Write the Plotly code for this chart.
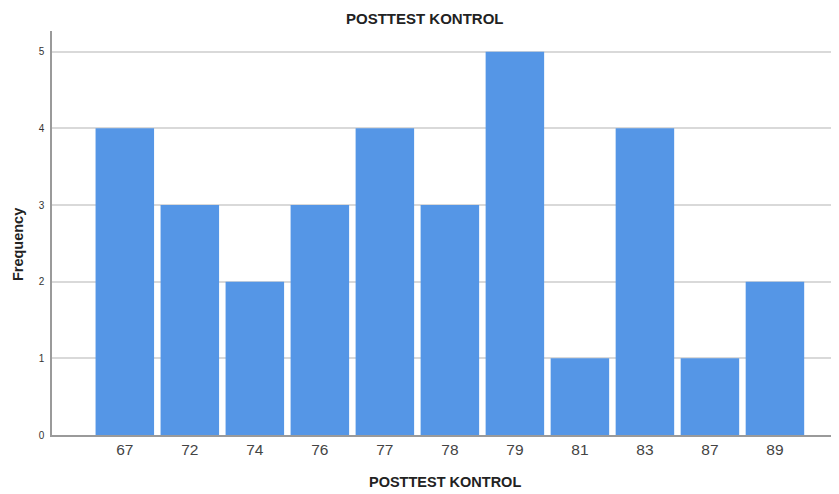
import plotly.graph_objects as go

categories = ["67", "72", "74", "76", "77", "78", "79", "81", "83", "87", "89"]
frequency = [4, 3, 2, 3, 4, 3, 5, 1, 4, 1, 2]
y_ticks = [0, 1, 2, 3, 4, 5]

# The page body has a default 8px margin, so the figure is sized to fit the window.
fig = go.Figure(go.Bar(
    x=categories, y=frequency,
    marker=dict(color="#5596e6", line=dict(width=0)),
))

fig.update_layout(
    width=831, height=486,
    margin=dict(l=44, r=1, t=23, b=59),
    paper_bgcolor="white", plot_bgcolor="white",
    bargap=0.1,
    showlegend=False,
    font=dict(family="Liberation Sans, Arial, sans-serif", color="#333333"),
    annotations=[
        dict(text="<b>POSTTEST KONTROL</b>", xref="paper", yref="paper",
             x=0.475, y=1, yshift=13, xanchor="center", yanchor="middle",
             showarrow=False, font=dict(size=15, color="#222222")),
        dict(text="<b>POSTTEST KONTROL</b>", xref="paper", yref="paper",
             x=0.5, y=0, yshift=-47, xanchor="center", yanchor="middle",
             showarrow=False, font=dict(size=14.5, color="#222222")),
        dict(text="<b>Frequency</b>", xref="paper", yref="paper",
             x=0, xshift=-34, y=0.47, xanchor="center", yanchor="middle",
             textangle=-90, showarrow=False, font=dict(size=14.5, color="#222222")),
    ],
)

fig.update_xaxes(
    type="category", range=[-1.12, 10.97],
    showline=True, linecolor="#9a9a9a", linewidth=1.5,
    showgrid=False, ticks="", tickfont=dict(size=15.5, color="#444444"),
    zeroline=False,
)
fig.update_yaxes(
    range=[0, 5.27], tickvals=y_ticks,
    showline=True, linecolor="#9a9a9a", linewidth=1.5,
    showgrid=True, gridcolor="#d9d9d9", gridwidth=2,
    ticks="", tickfont=dict(size=10, color="#333333"),
    ticklabelstandoff=4, zeroline=False,
)

fig.write_html("out.html")
